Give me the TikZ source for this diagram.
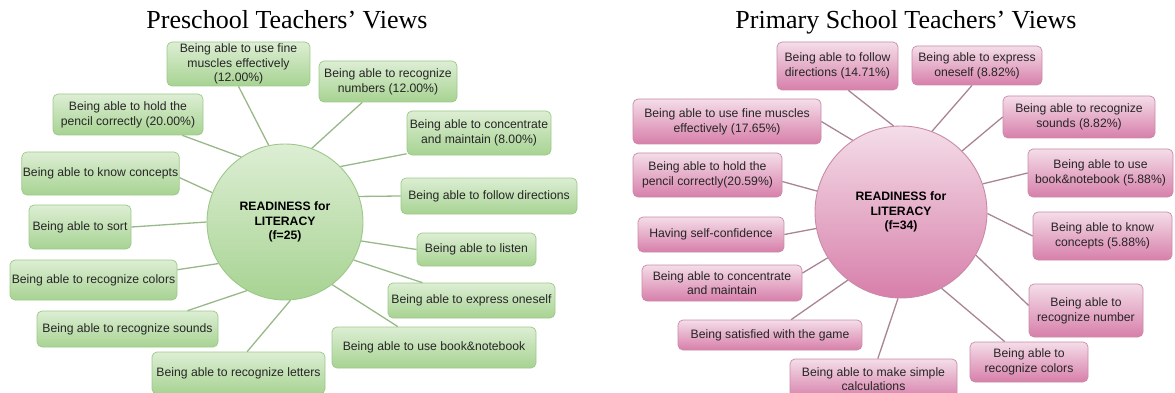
\documentclass[tikz,border=0pt]{standalone}
\usepackage{fontspec}
\setmainfont{Liberation Serif}
\setsansfont{Liberation Sans}
\usepackage{tikz}
\usetikzlibrary{positioning, calc}
\definecolor{gtop}{HTML}{DDEED4}
\definecolor{gbot}{HTML}{A7D392}
\definecolor{gedge}{HTML}{9CC889}
\definecolor{gline}{HTML}{98B889}
\definecolor{ptop}{HTML}{F4DDE8}
\definecolor{pbot}{HTML}{D77FAA}
\definecolor{pedge}{HTML}{C98AA7}
\definecolor{pline}{HTML}{A98495}
\definecolor{ink}{HTML}{262626}

\begin{document}
\begin{tikzpicture}[x=1pt, y=-1pt,
  every node/.style={font=\sffamily\fontsize{12.2}{14.7}\selectfont, text=ink, align=center, inner sep=1pt},
  sz/.style 2 args={minimum width=#1pt, minimum height=#2pt},
  gbox/.style={draw=gedge, line width=0.7pt, rounded corners=5pt, top color=gtop, bottom color=gbot},
  pbox/.style={draw=pedge, line width=0.7pt, rounded corners=5pt, top color=ptop, bottom color=pbot},
  hub/.style={circle, line width=0.9pt, text=black, font=\sffamily\bfseries\fontsize{12.2}{14.7}\selectfont},
  title/.style={font=\rmfamily\fontsize{26}{30}\selectfont, text=black, anchor=base}]
\useasboundingbox (0,0) rectangle (1175,393);

% Titles
\node[title] (tl) at (287,29) {Preschool Teachers’ Views};
\node[title] (tr) at (906,29) {Primary School Teachers’ Views};

% Preschool map
\node[hub, draw=gedge, top color=gtop, bottom color=gbot, minimum size=156pt] (L) at (285,222)
  {READINESS for\\LITERACY\\(f=25)};
\node[gbox, sz={143}{44}] (lmus) at (238.5,64) {Being able to use fine\\muscles effectively\\(12.00\%)};
\node[gbox, sz={150}{41}] (lpen) at (128,114.5) {Being able to hold the\\pencil correctly (20.00\%)};
\node[gbox, sz={157}{43}] (lcon) at (100.5,173.5) {Being able to know concepts};
\node[gbox, sz={102}{44}] (lsor) at (80,227) {Being able to sort};
\node[gbox, sz={167}{40}] (lcol) at (93.5,280) {Being able to recognize colors};
\node[gbox, sz={181}{36}] (lsou) at (127.5,329) {Being able to recognize sounds};
\node[gbox, sz={173}{42}] (llet) at (238.5,373) {Being able to recognize letters};
\node[gbox, sz={204}{41}] (lboo) at (434,347.5) {Being able to use book\&notebook};
\node[gbox, sz={167}{35}] (lexp) at (471.5,300.5) {Being able to express oneself};
\node[gbox, sz={119}{33}] (llis) at (476.5,249.5) {Being able to listen};
\node[gbox, sz={176}{36}] (lfol) at (489,196) {Being able to follow directions};
\node[gbox, sz={144}{44}] (lcnt) at (479,133) {Being able to concentrate\\and maintain (8.00\%)};
\node[gbox, sz={138}{41}] (lnum) at (388,81.5) {Being able to recognize\\numbers (12.00\%)};

\foreach \b/\a/\c in {lmus/south/102, lpen/-21/124, lcon/-3/158, lsor/east/180,
    lcol/7/-148, lsou/17/-119, llet/68/-86, lboo/150/-53, lexp/160/-29,
    llis/west/-14, lfol/west/19, lcnt/-164/45, lnum/-141/70}
  \draw[gline, line width=1.3pt] (L.\c) -- (\b.\a);

% Primary school map
\node[hub, draw=pedge, top color=ptop, bottom color=pbot, minimum size=172pt] (R) at (901,212)
  {READINESS for\\LITERACY\\(f=34)};
\node[pbox, sz={121}{48}] (rfol) at (837.5,66) {Being able to follow\\directions (14.71\%)};
\node[pbox, sz={130}{39}] (rexp) at (977,65.5) {Being able to express\\oneself (8.82\%)};
\node[pbox, sz={152}{42}] (rsou) at (1079,117) {Being able to recognize\\sounds (8.82\%)};
\node[pbox, sz={145}{48}] (rboo) at (1100.5,173) {Being able to use\\book\&notebook (5.88\%)};
\node[pbox, sz={139}{48}] (rcon) at (1102.5,236) {Being able to know\\concepts (5.88\%)};
\node[pbox, sz={114}{53}] (rnum) at (1086,310.5) {Being able to\\recognize number};
\node[pbox, sz={118}{40}] (rcol) at (1029,362) {Being able to\\recognize colors};
\node[pbox, sz={167}{40}] (rcal) at (873.5,379) {Being able to make simple\\calculations};
\node[pbox, sz={184}{30}] (rgam) at (770,335) {Being satisfied with the game};
\node[pbox, sz={160}{36}] (rcnt) at (722,283) {Being able to concentrate\\and maintain};
\node[pbox, sz={146}{35}] (rsel) at (711,234.5) {Having self-confidence};
\node[pbox, sz={149}{44}] (rpen) at (707.5,175) {Being able to hold the\\pencil correctly(20.59\%)};
\node[pbox, sz={188}{45}] (rmus) at (727,121.5) {Being able to use fine muscles\\effectively (17.65\%)};

\foreach \b/\a/\c in {rfol/-66/95, rexp/-104/69, rsou/west/45, rboo/west/19,
    rcon/west/-1, rnum/175/-30, rcol/140/-62, rcal/78/-92, rgam/36/-128,
    rcnt/7/-148, rsel/east/-169, rpen/-5/166, rmus/east/124}
  \draw[pline, line width=1.3pt] (R.\c) -- (\b.\a);
\end{tikzpicture}
\end{document}
